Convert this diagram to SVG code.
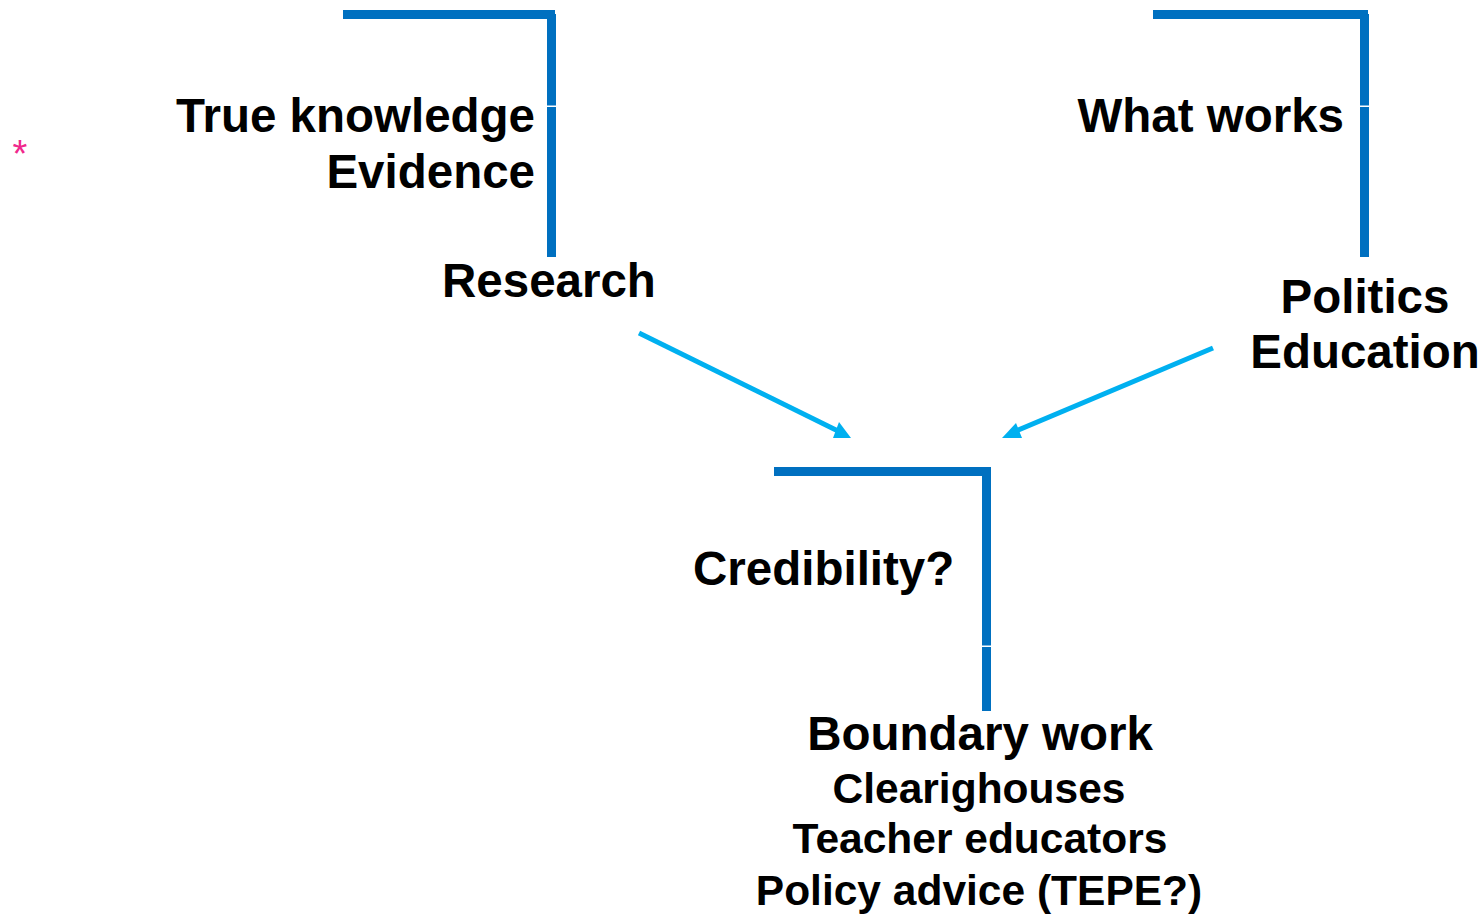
<svg xmlns="http://www.w3.org/2000/svg" width="1484" height="914" viewBox="0 0 1484 914">
<style>
.t{font-family:"Liberation Sans",Arial,sans-serif;font-weight:bold;fill:#000}
.b{fill:#0070C0}
.c{stroke:#00B0F0;stroke-width:5;fill:none}
.h{fill:#00B0F0}
</style>
<rect width="1484" height="914" fill="#fff"/>
<text x="20" y="167" font-family="Liberation Sans,Arial,sans-serif" font-size="38" fill="#F0288C" text-anchor="middle">*</text>
<g id="research">
<rect class="b" x="343" y="10" width="212" height="9"/>
<rect class="b" x="547" y="14" width="9" height="91.5"/>
<rect class="b" x="547" y="107" width="9" height="150"/>
<text class="t" x="535" y="132" font-size="47.5" text-anchor="end">True knowledge</text>
<text class="t" x="535" y="188" font-size="47.5" text-anchor="end">Evidence</text>
<text class="t" x="442" y="297" font-size="47.5">Research</text>
</g>
<g id="politics">
<rect class="b" x="1153" y="10" width="215" height="9"/>
<rect class="b" x="1360" y="14" width="9" height="91.5"/>
<rect class="b" x="1360" y="107" width="9" height="150"/>
<text class="t" x="1344" y="132" font-size="47.5" text-anchor="end">What works</text>
<text class="t" x="1365" y="313" font-size="47.5" text-anchor="middle">Politics</text>
<text class="t" x="1365" y="368" font-size="47.5" text-anchor="middle">Education</text>
</g>
<g id="credibility">
<rect class="b" x="774" y="467" width="217" height="9"/>
<rect class="b" x="982" y="470" width="9" height="175.5"/>
<rect class="b" x="982" y="647" width="9" height="64"/>
<text class="t" x="693" y="585" font-size="47.5">Credibility?</text>
<text class="t" x="980" y="750" font-size="47.5" text-anchor="middle">Boundary work</text>
<text class="t" x="979" y="803" font-size="42.5" text-anchor="middle">Clearighouses</text>
<text class="t" x="980" y="853" font-size="42.5" text-anchor="middle">Teacher educators</text>
<text class="t" x="979" y="905" font-size="42.5" text-anchor="middle">Policy advice (TEPE?)</text>
</g>
<g id="connectors">
<line class="c" x1="639" y1="333" x2="838" y2="431"/>
<polygon class="h" points="833,438 851,438 839,422"/>
<line class="c" x1="1213" y1="348" x2="1016" y2="431"/>
<polygon class="h" points="1002,438 1022,438 1016,423"/>
</g>
</svg>
